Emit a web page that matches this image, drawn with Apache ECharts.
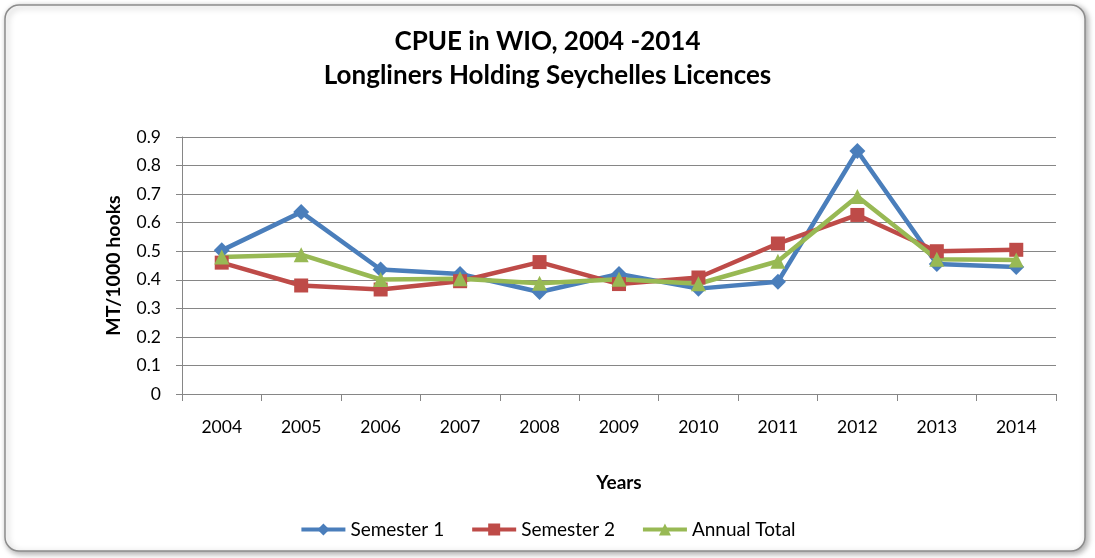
<!DOCTYPE html>
<html><head><meta charset="utf-8">
<script src="https://cdn.jsdelivr.net/npm/echarts@6/dist/echarts.min.js"></script>
<style>html,body{margin:0;padding:0;background:#fff}#c{width:1095px;height:558px}</style>
</head><body><div id="c"></div>
<script>
const years = ['2004','2005','2006','2007','2008','2009','2010','2011','2012','2013','2014'];
const semester1 = [0.503,0.637,0.436,0.420,0.357,0.420,0.369,0.393,0.851,0.455,0.445];
const semester2 = [0.460,0.380,0.366,0.395,0.462,0.385,0.408,0.527,0.627,0.500,0.505];
const annualTotal = [0.480,0.488,0.401,0.404,0.388,0.402,0.386,0.465,0.692,0.472,0.469];
const yTicks = [0,0.1,0.2,0.3,0.4,0.5,0.6,0.7,0.8,0.9];

const FONT = 'Lato, "Open Sans", sans-serif';
const chart = echarts.init(document.getElementById('c'));
const mk = (name, data, color, symbol, size) => ({
  name, type:'line', data, symbol, symbolSize:size,
  lineStyle:{color, width:4.5}, itemStyle:{color}, z: 3
});
chart.setOption({
  animation:false,
  graphic:[{type:'rect', shape:{x:5,y:5,width:1080,height:546,r:14},
    style:{fill:'#fff', stroke:'#8c8c8c', lineWidth:1.5, shadowBlur:6, shadowColor:'rgba(0,0,0,0.35)', shadowOffsetX:2, shadowOffsetY:2}, z:-10}],
  title:{text:'CPUE in WIO, 2004 -2014\nLongliners Holding Seychelles Licences', left:'center', top:20,
    textStyle:{fontFamily:FONT, fontSize:26, fontWeight:'bold', color:'#000', lineHeight:34}},
  legend:{bottom:14, left:'center', itemWidth:44, itemHeight:15, itemGap:26,
    lineStyle:{width:4},
    textStyle:{fontFamily:FONT, fontSize:19, color:'#000'},
    data:['Semester 1','Semester 2','Annual Total']},
  grid:{left:182, right:39, top:137, bottom:164},
  xAxis:{type:'category', data:years, boundaryGap:true, name:'Years', nameLocation:'middle', nameGap:79,
    nameTextStyle:{fontFamily:FONT, fontSize:19, fontWeight:'bold', color:'#000'},
    axisLine:{lineStyle:{color:'#868686', width:1}}, axisTick:{show:true, length:7, lineStyle:{color:'#868686'}},
    axisLabel:{fontFamily:FONT, fontSize:17.5, color:'#000', margin:24}},
  yAxis:{type:'value', min:0, max:0.9, interval:0.1, name:'MT/1000 hooks', nameLocation:'middle', nameGap:58,
    nameTextStyle:{fontFamily:FONT, fontSize:19.5, fontWeight:'bold', color:'#000'},
    axisLine:{show:true, lineStyle:{color:'#868686'}}, axisTick:{show:true, length:6, lineStyle:{color:'#868686'}},
    splitLine:{lineStyle:{color:'#868686', width:1}},
    axisLabel:{fontFamily:FONT, fontSize:17.5, color:'#000', margin:21,
      formatter:v => { const t = yTicks.find(x => Math.abs(x - v) < 1e-9); return t === undefined ? '' : String(t); }}},
  series:[
    mk('Semester 1', semester1, '#4A7EBB', 'diamond', 16),
    mk('Semester 2', semester2, '#BE4B48', 'rect', 14),
    mk('Annual Total', annualTotal, '#98B954', 'triangle', 15)
  ]
});
</script></body></html>
